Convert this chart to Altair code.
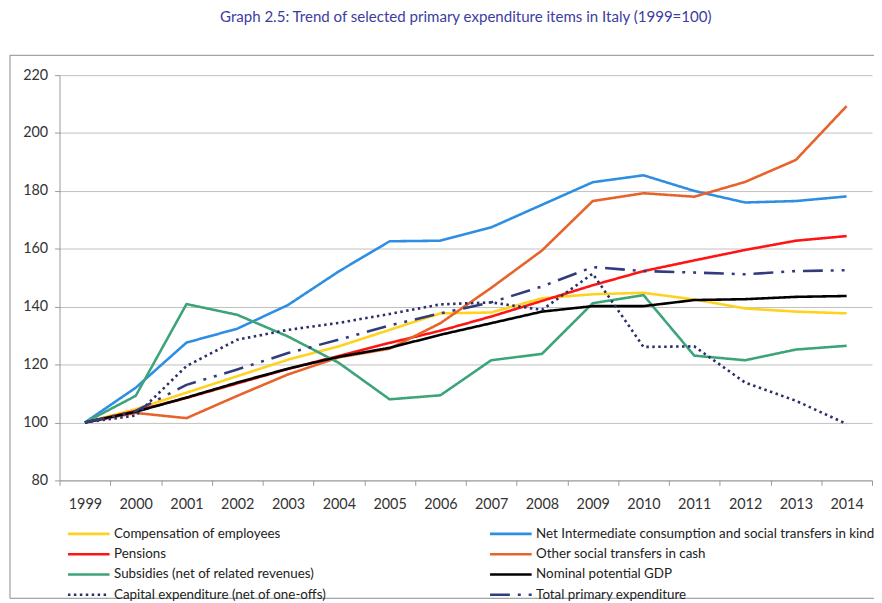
import altair as alt
import pandas as pd

years = [str(y) for y in range(1999, 2015)]

series_names = [
    "Compensation of employees",
    "Net Intermediate consumption and social transfers in kind",
    "Pensions",
    "Other social transfers in cash",
    "Subsidies (net of related revenues)",
    "Nominal potential GDP",
    "Capital expenditure (net of one-offs)",
    "Total primary expenditure",
]

compensation = [100, 104.6, 110.3, 116.0, 121.7, 126.3, 132.0, 137.7, 138.0, 142.9, 144.3, 144.8, 142.5, 139.4, 138.3, 137.7]
net_intermediate = [100, 112.0, 127.6, 132.4, 140.6, 152.2, 162.6, 162.8, 167.4, 175.2, 183.0, 185.4, 180.0, 176.0, 176.5, 178.1]
pensions = [100, 104.0, 108.5, 113.5, 118.5, 123.0, 127.5, 131.7, 136.6, 142.0, 147.4, 152.3, 156.0, 159.6, 162.8, 164.4]
other_social = [100, 103.3, 101.5, 109.2, 116.6, 122.5, 125.5, 134.3, 146.5, 159.4, 176.5, 179.2, 178.0, 183.1, 190.7, 209.3]
subsidies = [100, 109.2, 140.9, 137.2, 129.7, 120.6, 108.0, 109.4, 121.5, 123.7, 141.2, 144.0, 123.1, 121.5, 125.2, 126.5]
potential_gdp = [100, 103.7, 108.6, 113.8, 118.6, 122.7, 125.8, 130.3, 134.3, 138.3, 140.2, 140.2, 142.3, 142.6, 143.4, 143.7]
capital_exp = [100, 102.4, 119.5, 128.6, 132.0, 134.4, 137.5, 140.8, 141.5, 138.9, 151.4, 126.1, 126.3, 113.8, 107.5, 99.5]
total_primary = [100, 104.0, 113.0, 118.3, 124.0, 128.6, 133.5, 137.7, 141.5, 147.0, 153.7, 152.3, 151.8, 151.2, 152.3, 152.6]

y_ticks = [80, 100, 120, 140, 160, 180, 200, 220]

all_values = [compensation, net_intermediate, pensions, other_social,
              subsidies, potential_gdp, capital_exp, total_primary]

colors = ["#FFD21F", "#2E8FE2", "#FF1414", "#E8622C", "#3DA47A", "#000000", "#2A2F6A", "#323C7C"]
dashes = [[1, 0], [1, 0], [1, 0], [1, 0], [1, 0], [1, 0], [2.5, 3.5], [20, 8, 3, 8, 3, 8]]
widths = [2.6, 2.6, 2.6, 2.6, 2.6, 5.2, 2.8, 3.0]

rows = []
for name, vals in zip(series_names, all_values):
    for yr, v in zip(years, vals):
        rows.append({"year": yr, "series": name, "value": v})
df = pd.DataFrame(rows)

W, H = 820, 409
FONT = "Lato"

legend_kw = dict(
    title=None,
    orient="none",
    legendX=7,
    legendY=456,
    columns=2,
    direction="horizontal",
    symbolType="stroke",
    symbolSize=1764,
    clipHeight=14,
    labelFont=FONT,
    labelFontSize=13.5,
    labelColor="#222222",
    labelOffset=3,
    rowPadding=6.5,
    columnPadding=163,
    labelLimit=500,
)

lines = alt.Chart(df).mark_line(strokeJoin="round").encode(
    x=alt.X(
        "year:O",
        bandPosition=0.5,
        sort=years,
        scale=alt.Scale(type="band", paddingInner=0, paddingOuter=0),
        axis=alt.Axis(
            title=None, labelAngle=0, tickBand="extent", grid=False,
            tickSize=5, labelPadding=12, domainColor="#9a9a9a", tickColor="#9a9a9a",
        ),
    ),
    y=alt.Y(
        "value:Q",
        scale=alt.Scale(domain=[80, 220], nice=False, zero=False),
        axis=alt.Axis(
            title=None, values=y_ticks, grid=True, gridColor="#c0c0c0",
            tickSize=5, labelPadding=7, domainColor="#9a9a9a", tickColor="#9a9a9a",
        ),
    ),
    color=alt.Color("series:N", scale=alt.Scale(domain=series_names, range=colors),
                    legend=alt.Legend(**legend_kw)),
    strokeDash=alt.StrokeDash("series:N", scale=alt.Scale(domain=series_names, range=dashes),
                              legend=alt.Legend(**legend_kw)),
    strokeWidth=alt.StrokeWidth("series:N", scale=alt.Scale(domain=series_names, range=widths),
                                legend=alt.Legend(**legend_kw)),
)

frame = alt.Chart(pd.DataFrame({"k": [0]})).mark_rect(
    fillOpacity=0, stroke="#8c8c8c", strokeWidth=1
).encode(
    x=alt.value(-50), x2=alt.value(W + 30), y=alt.value(-20), y2=alt.value(528)
)

chart = alt.layer(frame, lines).properties(
    width=W,
    height=H,
    autosize=alt.AutoSizeParams(type="none"),
    padding={"left": 52, "top": 65, "right": 2, "bottom": 121},
    title=alt.TitleParams(
        "Graph 2.5: Trend of selected primary expenditure items in Italy (1999=100)",
        font=FONT, fontSize=15.2, fontWeight="normal", color="#3c3ca0",
        anchor="middle", offset=30,
    ),
).configure_view(strokeWidth=0).configure_axis(
    labelFont=FONT, labelFontSize=14.5, labelColor="#333333"
)

chart.save("out.html", embed_options={"renderer": "svg", "actions": False})
